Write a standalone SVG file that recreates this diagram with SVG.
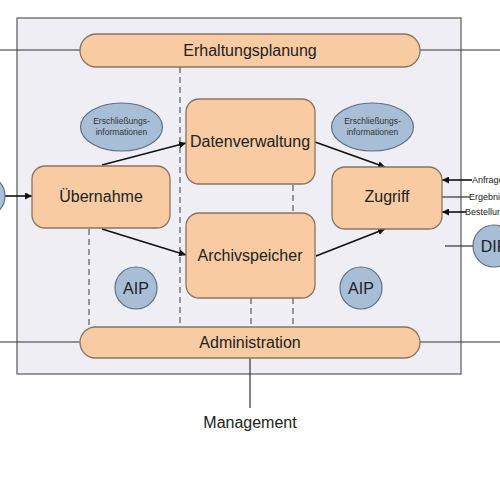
<svg xmlns="http://www.w3.org/2000/svg" width="500" height="500" viewBox="0 0 500 500">
<defs>
<marker id="ah" viewBox="0 0 10 10" refX="10" refY="5" markerWidth="7" markerHeight="7" orient="auto" markerUnits="userSpaceOnUse"><path d="M0,0 L10,5 L0,10 z" fill="#111"/></marker>
<style>
.box{fill:#F8CBA2;stroke:#8A7460;stroke-width:1.3}
.ell{fill:#A8BDD6;stroke:#5F6F82;stroke-width:1.2}
.t{font-family:"Liberation Sans",Arial,sans-serif;fill:#222;text-anchor:middle;dominant-baseline:central}
.big{font-size:16px}
.sm{font-size:8.5px;fill:#333}
.ln{stroke:#333;stroke-width:1.2;fill:none}
.ar{stroke:#111;stroke-width:1.6;fill:none;marker-end:url(#ah)}
.dash{stroke:#666;stroke-width:1.3;stroke-dasharray:6,4;fill:none}
.lab{font-family:"Liberation Sans",Arial,sans-serif;font-size:9px;fill:#222;dominant-baseline:central}
</style>
</defs>
<rect x="0" y="0" width="500" height="500" fill="#fff"/>
<rect id="frame" x="17" y="18" width="444" height="356" fill="#EFEEF5" stroke="#666" stroke-width="1.3"/>

<g id="connectors">
<line class="ln" x1="0" y1="50" x2="80" y2="50"/>
<line class="ln" x1="420" y1="50" x2="500" y2="50"/>
<line class="ln" x1="0" y1="342" x2="80" y2="342"/>
<line class="ln" x1="420" y1="342" x2="500" y2="342"/>
<line class="ln" x1="250" y1="358" x2="250" y2="408"/>
<line class="dash" x1="180" y1="67" x2="180" y2="327"/>
<line class="dash" x1="89" y1="229" x2="89" y2="327"/>
<line class="dash" x1="293" y1="185" x2="293" y2="213"/>
<line class="dash" x1="293" y1="298" x2="293" y2="327"/>
<line class="dash" x1="251" y1="298" x2="251" y2="327"/>
<line class="ar" x1="5" y1="196" x2="32" y2="196"/>
<line class="ar" x1="102" y1="165" x2="186" y2="143"/>
<line class="ar" x1="102" y1="229" x2="186" y2="255"/>
<line class="ar" x1="315" y1="142" x2="385" y2="167"/>
<line class="ar" x1="316" y1="256" x2="385" y2="229"/>
<line class="ar" x1="472" y1="180" x2="442" y2="180"/>
<line class="ln" x1="442" y1="197" x2="470" y2="197"/>
<line class="ar" x1="466" y1="212" x2="442" y2="212"/>
<line class="ln" x1="445" y1="246" x2="473" y2="246"/>
</g>

<g id="erhaltungsplanung"><rect class="box" x="80" y="34" width="340" height="33" rx="16.5"/><text class="t big" x="250" y="50">Erhaltungsplanung</text></g>
<g id="administration"><rect class="box" x="80" y="327" width="340" height="31" rx="15.5"/><text class="t big" x="250" y="342">Administration</text></g>
<g id="datenverwaltung"><rect class="box" x="186" y="99" width="129" height="85" rx="13"/><text class="t big" x="250" y="141">Datenverwaltung</text></g>
<g id="archivspeicher"><rect class="box" x="186" y="213" width="129" height="85" rx="13"/><text class="t big" x="250" y="255">Archivspeicher</text></g>
<g id="uebernahme"><rect class="box" x="32" y="166" width="138" height="62" rx="13"/><text class="t big" x="101" y="196">Übernahme</text></g>
<g id="zugriff"><rect class="box" x="332" y="167" width="110" height="62" rx="13"/><text class="t big" x="387" y="196">Zugriff</text></g>

<g id="erschl1"><ellipse class="ell" cx="121.5" cy="127" rx="41" ry="24"/><text class="t sm" x="121.5" y="121">Erschließungs-</text><text class="t sm" x="121.5" y="132">informationen</text></g>
<g id="erschl2"><ellipse class="ell" cx="372.5" cy="127" rx="41" ry="24"/><text class="t sm" x="372.5" y="121">Erschließungs-</text><text class="t sm" x="372.5" y="132">informationen</text></g>

<g id="aip1"><circle class="ell" cx="136" cy="288" r="21"/><text class="t big" x="136" y="288">AIP</text></g>
<g id="aip2"><circle class="ell" cx="361" cy="288" r="21"/><text class="t big" x="361" y="288">AIP</text></g>
<g id="sip"><circle class="ell" cx="-16" cy="196" r="21"/></g>
<g id="dip"><circle class="ell" cx="494" cy="246" r="21"/><text class="t big" x="494" y="246">DIP</text></g>

<g id="labels">
<text class="lab" x="472" y="180">Anfrage</text>
<text class="lab" x="469" y="197">Ergebnis</text>
<text class="lab" x="465" y="212">Bestellung</text>
</g>
<g id="management"><text class="t" x="250" y="422" font-size="16">Management</text></g>
</svg>
